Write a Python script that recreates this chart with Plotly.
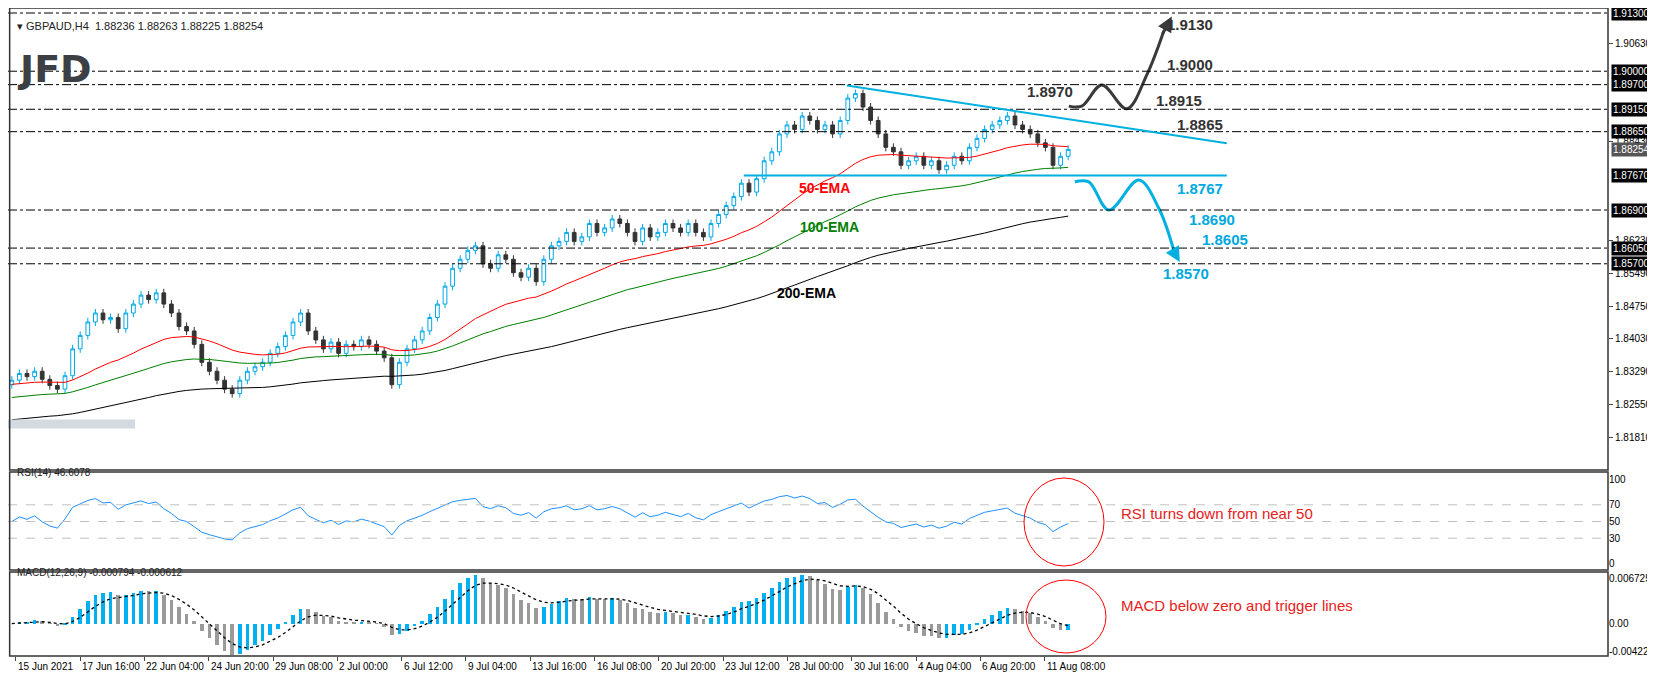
import numpy as np
import plotly.graph_objects as go

# H4 closes (compressed to 140 bars)
closes = [
    1.8310, 1.8325, 1.8318, 1.8330, 1.8312, 1.8298, 1.8290, 1.8320, 1.8380, 1.8410,
    1.8440, 1.8460, 1.8445, 1.8450, 1.8425, 1.8460, 1.8480, 1.8500, 1.8490, 1.8505,
    1.8480, 1.8460, 1.8430, 1.8420, 1.8390, 1.8350, 1.8330, 1.8310, 1.8290, 1.8280,
    1.8310, 1.8330, 1.8340, 1.8350, 1.8370, 1.8385, 1.8410, 1.8440, 1.8460, 1.8420,
    1.8400, 1.8380, 1.8395, 1.8370, 1.8390, 1.8385, 1.8400, 1.8390, 1.8375, 1.8360,
    1.8300, 1.8350, 1.8380, 1.8400, 1.8420, 1.8450, 1.8480, 1.8520, 1.8560, 1.8580,
    1.8600, 1.8610, 1.8570, 1.8560, 1.8590, 1.8580, 1.8550, 1.8540, 1.8560, 1.8530,
    1.8580, 1.8610, 1.8620, 1.8640, 1.8620, 1.8630, 1.8660, 1.8640, 1.8650, 1.8670,
    1.8660, 1.8640, 1.8620, 1.8650, 1.8630, 1.8640, 1.8660, 1.8650, 1.8640, 1.8660,
    1.8640, 1.8630, 1.8660, 1.8680, 1.8700, 1.8720, 1.8750, 1.8730, 1.8760, 1.8800,
    1.8820, 1.8860, 1.8880, 1.8870, 1.8900, 1.8890, 1.8870, 1.8880, 1.8860, 1.8890,
    1.8940, 1.8950, 1.8920, 1.8890, 1.8860, 1.8830, 1.8820, 1.8790, 1.8800, 1.8810,
    1.8790, 1.8800, 1.8780, 1.8790, 1.8810, 1.8800, 1.8830, 1.8850, 1.8870, 1.8880,
    1.8890, 1.8900, 1.8880, 1.8870, 1.8860, 1.8840, 1.8830, 1.8790, 1.8810, 1.88254,
]
first_open = 1.8300
wick = 0.0009

ema_seeds = {"50": 1.8300, "100": 1.8270, "200": 1.8220}
ema_spans = {"50": 28, "100": 56, "200": 112}

levels_black = [1.9130, 1.9000, 1.8970, 1.8915, 1.8865, 1.8690, 1.8605, 1.8570]
support = 1.8767
price_ticks = [1.9063, 1.8843, 1.8623, 1.8549, 1.8475, 1.8403, 1.8329, 1.8255, 1.8181, 1.8109]

date_labels = ["15 Jun 2021", "17 Jun 16:00", "22 Jun 04:00", "24 Jun 20:00", "29 Jun 08:00",
               "2 Jul 00:00", "6 Jul 12:00", "9 Jul 04:00", "13 Jul 16:00", "16 Jul 08:00",
               "20 Jul 20:00", "23 Jul 12:00", "28 Jul 00:00", "30 Jul 16:00", "4 Aug 04:00",
               "6 Aug 20:00", "11 Aug 08:00"]

PX = 7.6  # pixels per bar
FW, FH = 1655, 680
n = len(closes)
idx = np.arange(n)
c = np.array(closes)
o = np.concatenate([[first_open], c[:-1]])
h = np.maximum(o, c) + wick
l = np.minimum(o, c) - wick


def ema(vals, span, seed):
    a = 2 / (span + 1)
    out, e = [], seed
    for v in vals:
        e = e + a * (v - e)
        out.append(e)
    return np.array(out)


emas = {k: ema(c, ema_spans[k], ema_seeds[k]) for k in ema_spans}

# RSI
d = np.diff(c, prepend=c[0])
up = ema(np.clip(d, 0, None), 23, 0.0006)
dn = ema(np.clip(-d, 0, None), 23, 0.0006)
rsi = 100 - 100 / (1 + up / dn)

# MACD
macd = ema(c, 7, c[0]) - ema(c, 15, c[0])
macd = macd * 1.25
signal = ema(macd, 5, 0)
hist_col = ["#00b0f0" if i == 0 or macd[i] >= macd[i - 1] else "#9a9a9a" for i in range(n)]

W = 1600 / FW
font = "Liberation Sans"

# pane pixel bounds (top, bottom)
P1, P2, P3 = (0, 462), (464, 562), (564, 648)


def py(p):
    return 1 - p / FH


fig = go.Figure()
fig.add_trace(go.Candlestick(
    x=idx, open=o, high=h, low=l, close=c,
    increasing=dict(line=dict(color="#00a8e8", width=1), fillcolor="white"),
    decreasing=dict(line=dict(color="#333333", width=1), fillcolor="#333333"),
    whiskerwidth=0, xaxis="x", yaxis="y", showlegend=False))
for k, col in [("50", "#ff0000"), ("100", "#008000"), ("200", "#000000")]:
    fig.add_trace(go.Scatter(x=idx, y=emas[k], mode="lines", line=dict(color=col, width=1),
                             xaxis="x", yaxis="y", showlegend=False))

fig.add_trace(go.Scatter(x=idx, y=rsi, mode="lines", line=dict(color="#1e90ff", width=1),
                         xaxis="x2", yaxis="y2", showlegend=False))
fig.add_trace(go.Bar(x=idx, y=macd, marker=dict(color=hist_col, line=dict(width=0)), width=0.45,
                     xaxis="x3", yaxis="y3", showlegend=False))
fig.add_trace(go.Scatter(x=idx, y=signal, mode="lines", line=dict(color="black", width=1.3, dash="dot"),
                         xaxis="x3", yaxis="y3", showlegend=False))

# scenario arrows
up_path_x = [1057, 1070, 1090, 1115, 1135, 1152]
up_path_y = [1.8922, 1.8922, 1.8969, 1.8916, 1.8992, 1.9090]
dn_path_x = [1063, 1077, 1097, 1127, 1147, 1162]
dn_path_y = [1.8753, 1.8753, 1.8690, 1.8757, 1.8694, 1.8600]
fig.add_trace(go.Scatter(x=[v / PX for v in up_path_x], y=up_path_y, mode="lines",
                         line=dict(color="#3a3a3a", width=3, shape="spline"), showlegend=False))
fig.add_trace(go.Scatter(x=[v / PX for v in dn_path_x], y=dn_path_y, mode="lines",
                         line=dict(color="#00b0e0", width=3, shape="spline"), showlegend=False))

ann = []
ann.append(dict(x=1160 / PX, y=1.9122, ax=1150 / PX, ay=1.9080, xref="x", yref="y", axref="x", ayref="y",
                showarrow=True, arrowhead=2, arrowsize=1, arrowwidth=3, arrowcolor="#3a3a3a", text=""))
ann.append(dict(x=1168 / PX, y=1.8574, ax=1160 / PX, ay=1.8605, xref="x", yref="y", axref="x", ayref="y",
                showarrow=True, arrowhead=2, arrowsize=1, arrowwidth=3, arrowcolor="#00b0e0", text=""))

shapes = []
for lv in levels_black:
    shapes.append(dict(type="line", xref="paper", yref="y", x0=0, x1=W, y0=lv, y1=lv,
                       line=dict(color="black", width=1, dash="dashdot")))
shapes.append(dict(type="line", xref="x", yref="y", x0=732 / PX, x1=1215 / PX, y0=support, y1=support,
                   line=dict(color="#00b0e0", width=2)))
shapes.append(dict(type="line", xref="x", yref="y", x0=835 / PX, x1=1215 / PX, y0=1.8968, y1=1.8839,
                   line=dict(color="#00b0e0", width=2)))
shapes.append(dict(type="rect", xref="paper", yref="y", x0=0, x1=127 / FW, y0=1.8202, y1=1.8222,
                   fillcolor="#d3dbe0", line=dict(width=0)))
for lv in [70, 50, 30]:
    shapes.append(dict(type="line", xref="paper", yref="y2", x0=0, x1=W, y0=lv, y1=lv,
                       line=dict(color="#c0c0c0", width=1, dash="dash")))
# pane borders
for t, b in [P1, P2, P3]:
    shapes.append(dict(type="rect", xref="paper", yref="paper", x0=0.001, x1=W,
                       y0=py(b), y1=py(t), line=dict(color="#333", width=1.5)))
# circles
shapes.append(dict(type="circle", xref="paper", yref="paper", x0=1016 / FW, x1=1096 / FW,
                   y0=py(558), y1=py(470), line=dict(color="red", width=1)))
shapes.append(dict(type="circle", xref="paper", yref="paper", x0=1018 / FW, x1=1098 / FW,
                   y0=py(645), y1=py(572), line=dict(color="red", width=1)))

# level labels on chart
lbls = [("1.9130", 1153, 1.9105, "#333"), ("1.9000", 1153, 1.9016, "#333"), ("1.8970", 1013, 1.8954, "#333"),
        ("1.8915", 1142, 1.8934, "#333"), ("1.8865", 1163, 1.8880, "#333"), ("1.8767", 1163, 1.8739, "#00a8e0"),
        ("1.8690", 1175, 1.8668, "#00a8e0"), ("1.8605", 1188, 1.8624, "#00a8e0"), ("1.8570", 1149, 1.8549, "#00a8e0")]
for t, xp, yv, col in lbls:
    ann.append(dict(x=xp / PX, y=yv, xref="x", yref="y", text="<b>%s</b>" % t, showarrow=False,
                    xanchor="left", font=dict(size=15, color=col, family=font)))
for t, xp, yv, col in [("50-EMA", 813, 1.8740, "#ff0000"), ("100-EMA", 818, 1.8652, "#008000"),
                       ("200-EMA", 795, 1.8505, "#000000")]:
    ann.append(dict(x=xp / PX, y=yv, xref="x", yref="y", text="<b>%s</b>" % t, showarrow=False,
                    font=dict(size=14, color=col, family=font)))

# right-side boxes
for lv in levels_black + [support]:
    ann.append(dict(x=W + 0.002, y=lv, xref="paper", yref="y", text="%.5f" % lv, showarrow=False,
                    xanchor="left", bgcolor="black", font=dict(size=10, color="white", family=font),
                    borderpad=1))
ann.append(dict(x=W + 0.002, y=closes[-1], xref="paper", yref="y", text="%.5f" % closes[-1], showarrow=False,
                xanchor="left", bgcolor="#555555", font=dict(size=10, color="white", family=font), borderpad=1))

ann.append(dict(x=0.004, y=py(10), xref="paper", yref="paper", xanchor="left", showarrow=False,
                text="▾ GBPAUD,H4  1.88236 1.88263 1.88225 1.88254", font=dict(size=11, color="#222", family=font)))
ann.append(dict(x=0.004, y=py(37), xref="paper", yref="paper", xanchor="left", showarrow=False,
                text="<b>JFD</b>", font=dict(size=38, color="#3c3f44", family="DejaVu Sans")))
ann.append(dict(x=0.004, y=py(472), xref="paper", yref="paper", xanchor="left", showarrow=False,
                text="RSI(14) 46.6078", font=dict(size=10, color="#222", family=font)))
ann.append(dict(x=0.004, y=py(572), xref="paper", yref="paper", xanchor="left", showarrow=False,
                text="MACD(12,26,9) -0.000794 -0.000612", font=dict(size=10, color="#222", family=font)))
ann.append(dict(x=1111 / FW, y=py(516), xref="paper", yref="paper", xanchor="left", showarrow=False,
                text="RSI turns down from near 50", font=dict(size=15, color="#e8201a", family=font)))
ann.append(dict(x=1111 / FW, y=py(608), xref="paper", yref="paper", xanchor="left", showarrow=False,
                text="MACD below zero and trigger lines", font=dict(size=15, color="#e8201a", family=font)))

xr = [-0.5, 1600 / PX - 0.5]
tickpos = [(4 + 64.3 * k) / PX for k in range(len(date_labels))]
for tp, lab in zip(tickpos, date_labels):
    ann.append(dict(x=tp, y=py(P3[1] + 3), xref="x3", yref="paper", xanchor="left", yanchor="top",
                    showarrow=False, text=lab, font=dict(size=10, color="black", family=font)))

tickfont = dict(size=10, color="black", family=font)
axis_common = dict(showgrid=False, zeroline=False, range=xr)

fig.update_layout(
    width=FW, height=FH, margin=dict(l=0, r=0, t=0, b=0),
    paper_bgcolor="white", plot_bgcolor="white", bargap=0,
    xaxis=dict(domain=[0, W], anchor="y", showticklabels=False, rangeslider=dict(visible=False), **axis_common),
    xaxis2=dict(domain=[0, W], anchor="y2", showticklabels=False, **axis_common),
    xaxis3=dict(domain=[0, W], anchor="y3", tickvals=tickpos, ticktext=[""] * len(tickpos), ticks="outside",
                ticklen=4, **axis_common),
    yaxis=dict(domain=[py(P1[1]), py(P1[0])],
               range=[1.9130 - (P1[1] - 5) / 4478, 1.9130 + 5 / 4478], side="right", tickvals=price_ticks,
               ticktext=["%.5f" % v for v in price_ticks], tickfont=tickfont, ticks="outside", ticklen=4,
               showgrid=False, zeroline=False),
    yaxis2=dict(domain=[py(P2[1]), py(P2[0])], range=[-8.1, 109.3], side="right",
                tickvals=[0, 30, 50, 70, 100], tickfont=tickfont, showgrid=False, zeroline=False),
    yaxis3=dict(domain=[py(P3[1]), py(P3[0])], range=[-0.00487, 0.00773], side="right",
                tickvals=[-0.00422, 0, 0.006725], ticktext=["-0.00422", "0.00", "0.006725"],
                tickfont=tickfont, showgrid=False, zeroline=False),
    shapes=shapes, annotations=ann,
)

fig.write_html("out.html")
